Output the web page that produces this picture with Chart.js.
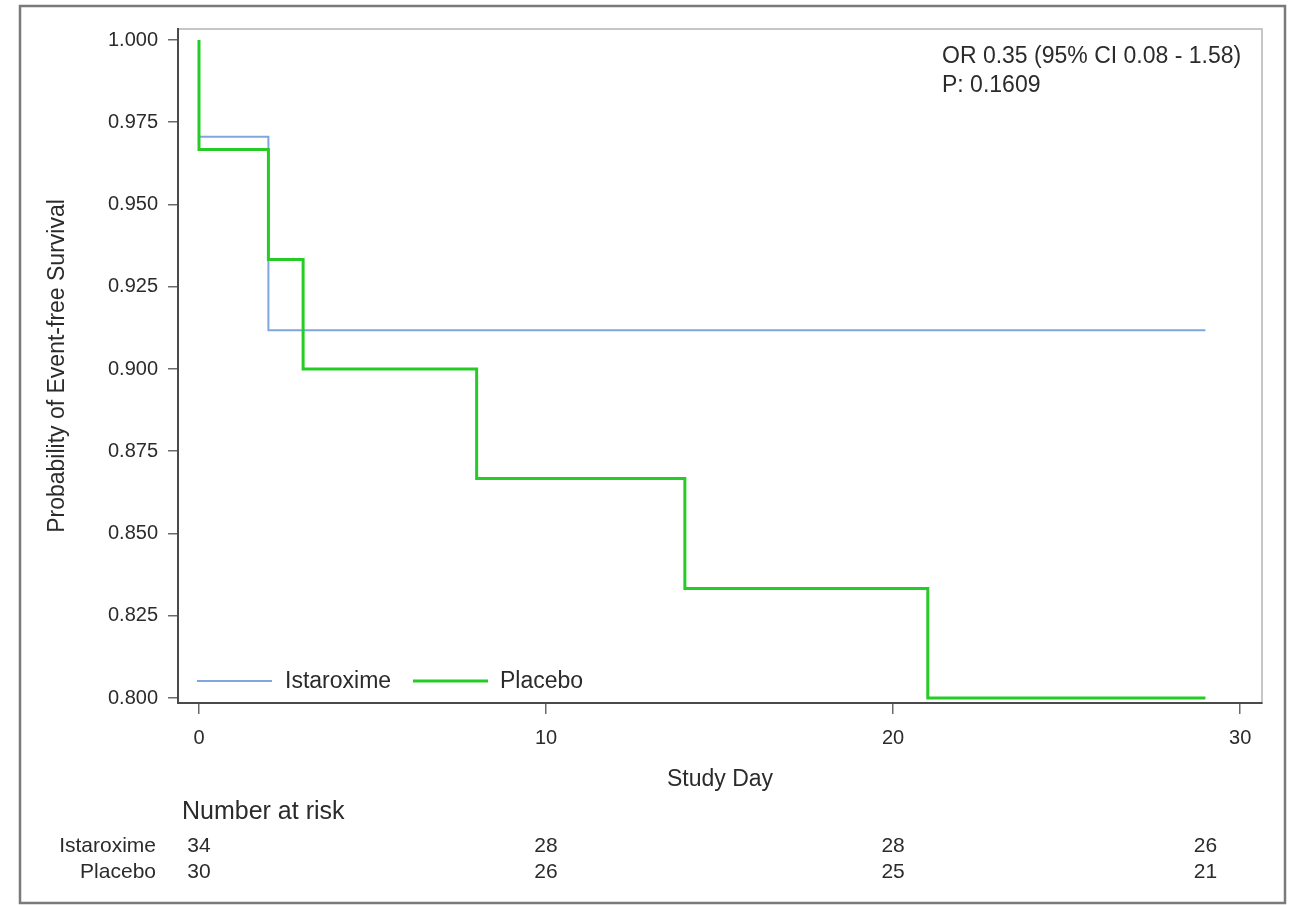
<!DOCTYPE html>
<html>
<head>
<meta charset="utf-8">
<script src="https://cdn.jsdelivr.net/npm/chart.js@4/dist/chart.umd.min.js"></script>
<style>
  html, body { margin: 0; padding: 0; background: #ffffff; }
  canvas { display: block; }
</style>
</head>
<body>
<canvas id="km" width="1304" height="905"></canvas>
<script>
// ---- data ----
const istaroximeDays = [0, 0, 2, 29];
const istaroximeSurv = [1.000, 0.9706, 0.9118, 0.9118];
const placeboDays = [0, 0, 2, 3, 8, 14, 21, 29];
const placeboSurv = [1.000, 0.9667, 0.9333, 0.9000, 0.8667, 0.8333, 0.8000, 0.8000];
const seriesLabels = ['Istaroxime', 'Placebo'];
const xTickValues = [0, 10, 20, 30];
const yTickValues = [0.800, 0.825, 0.850, 0.875, 0.900, 0.925, 0.950, 0.975, 1.000];
const riskDays = [0, 10, 20, 29];
const riskIstaroxime = [34, 28, 28, 26];
const riskPlacebo = [30, 26, 25, 21];
const annotationLines = ['OR 0.35 (95% CI 0.08 - 1.58)', 'P: 0.1609'];
const xTitle = 'Study Day';
const yTitle = 'Probability of Event-free Survival';
const riskTitle = 'Number at risk';

const TEXT = '#2b2b2b';
const FONT = '"Liberation Sans", Arial, sans-serif';
const BLUE = '#80a6de';
const GREEN = '#26cc26';

const toPoints = (xs, ys) => xs.map((x, i) => ({ x: x, y: ys[i] }));

const decorations = {
  id: 'decorations',
  beforeDraw(chart) {
    const ctx = chart.ctx;
    const a = chart.chartArea;
    ctx.save();
    ctx.fillStyle = '#ffffff';
    ctx.fillRect(0, 0, chart.width, chart.height);
    // outer frame
    ctx.strokeStyle = '#7a7a7a';
    ctx.lineWidth = 2.5;
    ctx.strokeRect(20, 6, 1265, 897);
    // plot box (top/right light lines)
    ctx.strokeStyle = '#b4b4b4';
    ctx.lineWidth = 1.5;
    ctx.strokeRect(a.left, a.top, a.right - a.left, a.bottom - a.top);
    ctx.restore();
  },
  afterDraw(chart) {
    const ctx = chart.ctx;
    const xs = chart.scales.x;
    ctx.save();
    ctx.fillStyle = TEXT;
    // annotation
    ctx.font = '23px ' + FONT;
    ctx.textAlign = 'left';
    ctx.textBaseline = 'middle';
    ctx.fillText(annotationLines[0], 942, 57);
    ctx.fillText(annotationLines[1], 942, 86);
    // legend (inside plot, bottom-left)
    const ds = chart.data.datasets;
    const legendItems = [
      { x0: 197, x1: 272, tx: 285, ds: ds[0] },
      { x0: 413, x1: 488, tx: 500, ds: ds[1] }
    ];
    legendItems.forEach(it => {
      ctx.strokeStyle = it.ds.borderColor;
      ctx.lineWidth = it.ds.borderWidth;
      ctx.beginPath();
      ctx.moveTo(it.x0, 681);
      ctx.lineTo(it.x1, 681);
      ctx.stroke();
      ctx.fillStyle = TEXT;
      ctx.font = '23px ' + FONT;
      ctx.textAlign = 'left';
      ctx.textBaseline = 'middle';
      ctx.fillText(it.ds.label, it.tx, 682);
    });
    // number at risk table
    ctx.fillStyle = TEXT;
    ctx.font = '25px ' + FONT;
    ctx.textAlign = 'left';
    ctx.fillText(riskTitle, 182, 812);
    ctx.font = '21px ' + FONT;
    ctx.textAlign = 'right';
    ctx.fillText(seriesLabels[0], 156, 846);
    ctx.fillText(seriesLabels[1], 156, 872);
    ctx.textAlign = 'center';
    riskDays.forEach((d, i) => {
      const px = xs.getPixelForValue(d);
      ctx.fillText(String(riskIstaroxime[i]), px, 846);
      ctx.fillText(String(riskPlacebo[i]), px, 872);
    });
    ctx.restore();
  }
};

new Chart(document.getElementById('km'), {
  type: 'line',
  data: {
    datasets: [
      {
        label: seriesLabels[0],
        data: toPoints(istaroximeDays, istaroximeSurv),
        borderColor: BLUE,
        borderWidth: 2,
        stepped: 'before',
        pointRadius: 0,
        fill: false,
        order: 1
      },
      {
        label: seriesLabels[1],
        data: toPoints(placeboDays, placeboSurv),
        borderColor: GREEN,
        borderWidth: 3,
        stepped: 'before',
        pointRadius: 0,
        fill: false,
        order: 0
      }
    ]
  },
  options: {
    responsive: false,
    animation: false,
    devicePixelRatio: 1,
    layout: { padding: { left: 0, top: 29, right: 42, bottom: 112 } },
    plugins: {
      legend: { display: false },
      tooltip: { enabled: false }
    },
    scales: {
      x: {
        type: 'linear',
        min: -0.605,
        max: 30.63,
        afterBuildTicks(scale) { scale.ticks = xTickValues.map(v => ({ value: v })); },
        afterFit(scale) { scale.height = 90; },
        border: { display: true, color: '#4a4a4a', width: 2 },
        grid: { drawOnChartArea: false, drawTicks: true, tickLength: 11, color: '#6a6a6a', lineWidth: 1.5 },
        ticks: {
          padding: 12,
          color: TEXT,
          font: { family: FONT, size: 20 },
          maxRotation: 0,
          callback: v => String(v)
        },
        title: {
          display: true,
          text: xTitle,
          color: TEXT,
          font: { family: FONT, size: 23 },
          padding: { top: 0, bottom: 0 }
        }
      },
      y: {
        type: 'linear',
        min: 0.79848,
        max: 1.00334,
        afterBuildTicks(scale) { scale.ticks = yTickValues.map(v => ({ value: v })); },
        afterFit(scale) { scale.width = 178; },
        border: { display: true, color: '#4a4a4a', width: 2 },
        grid: { drawOnChartArea: false, drawTicks: true, tickLength: 10, color: '#6a6a6a', lineWidth: 1.5 },
        ticks: {
          padding: 10,
          color: TEXT,
          font: { family: FONT, size: 20 },
          callback: v => Number(v).toFixed(3)
        },
        title: {
          display: true,
          text: yTitle,
          color: TEXT,
          font: { family: FONT, size: 23 },
          padding: { top: 44, bottom: 0 }
        }
      }
    }
  },
  plugins: [decorations]
});
</script>
</body>
</html>
